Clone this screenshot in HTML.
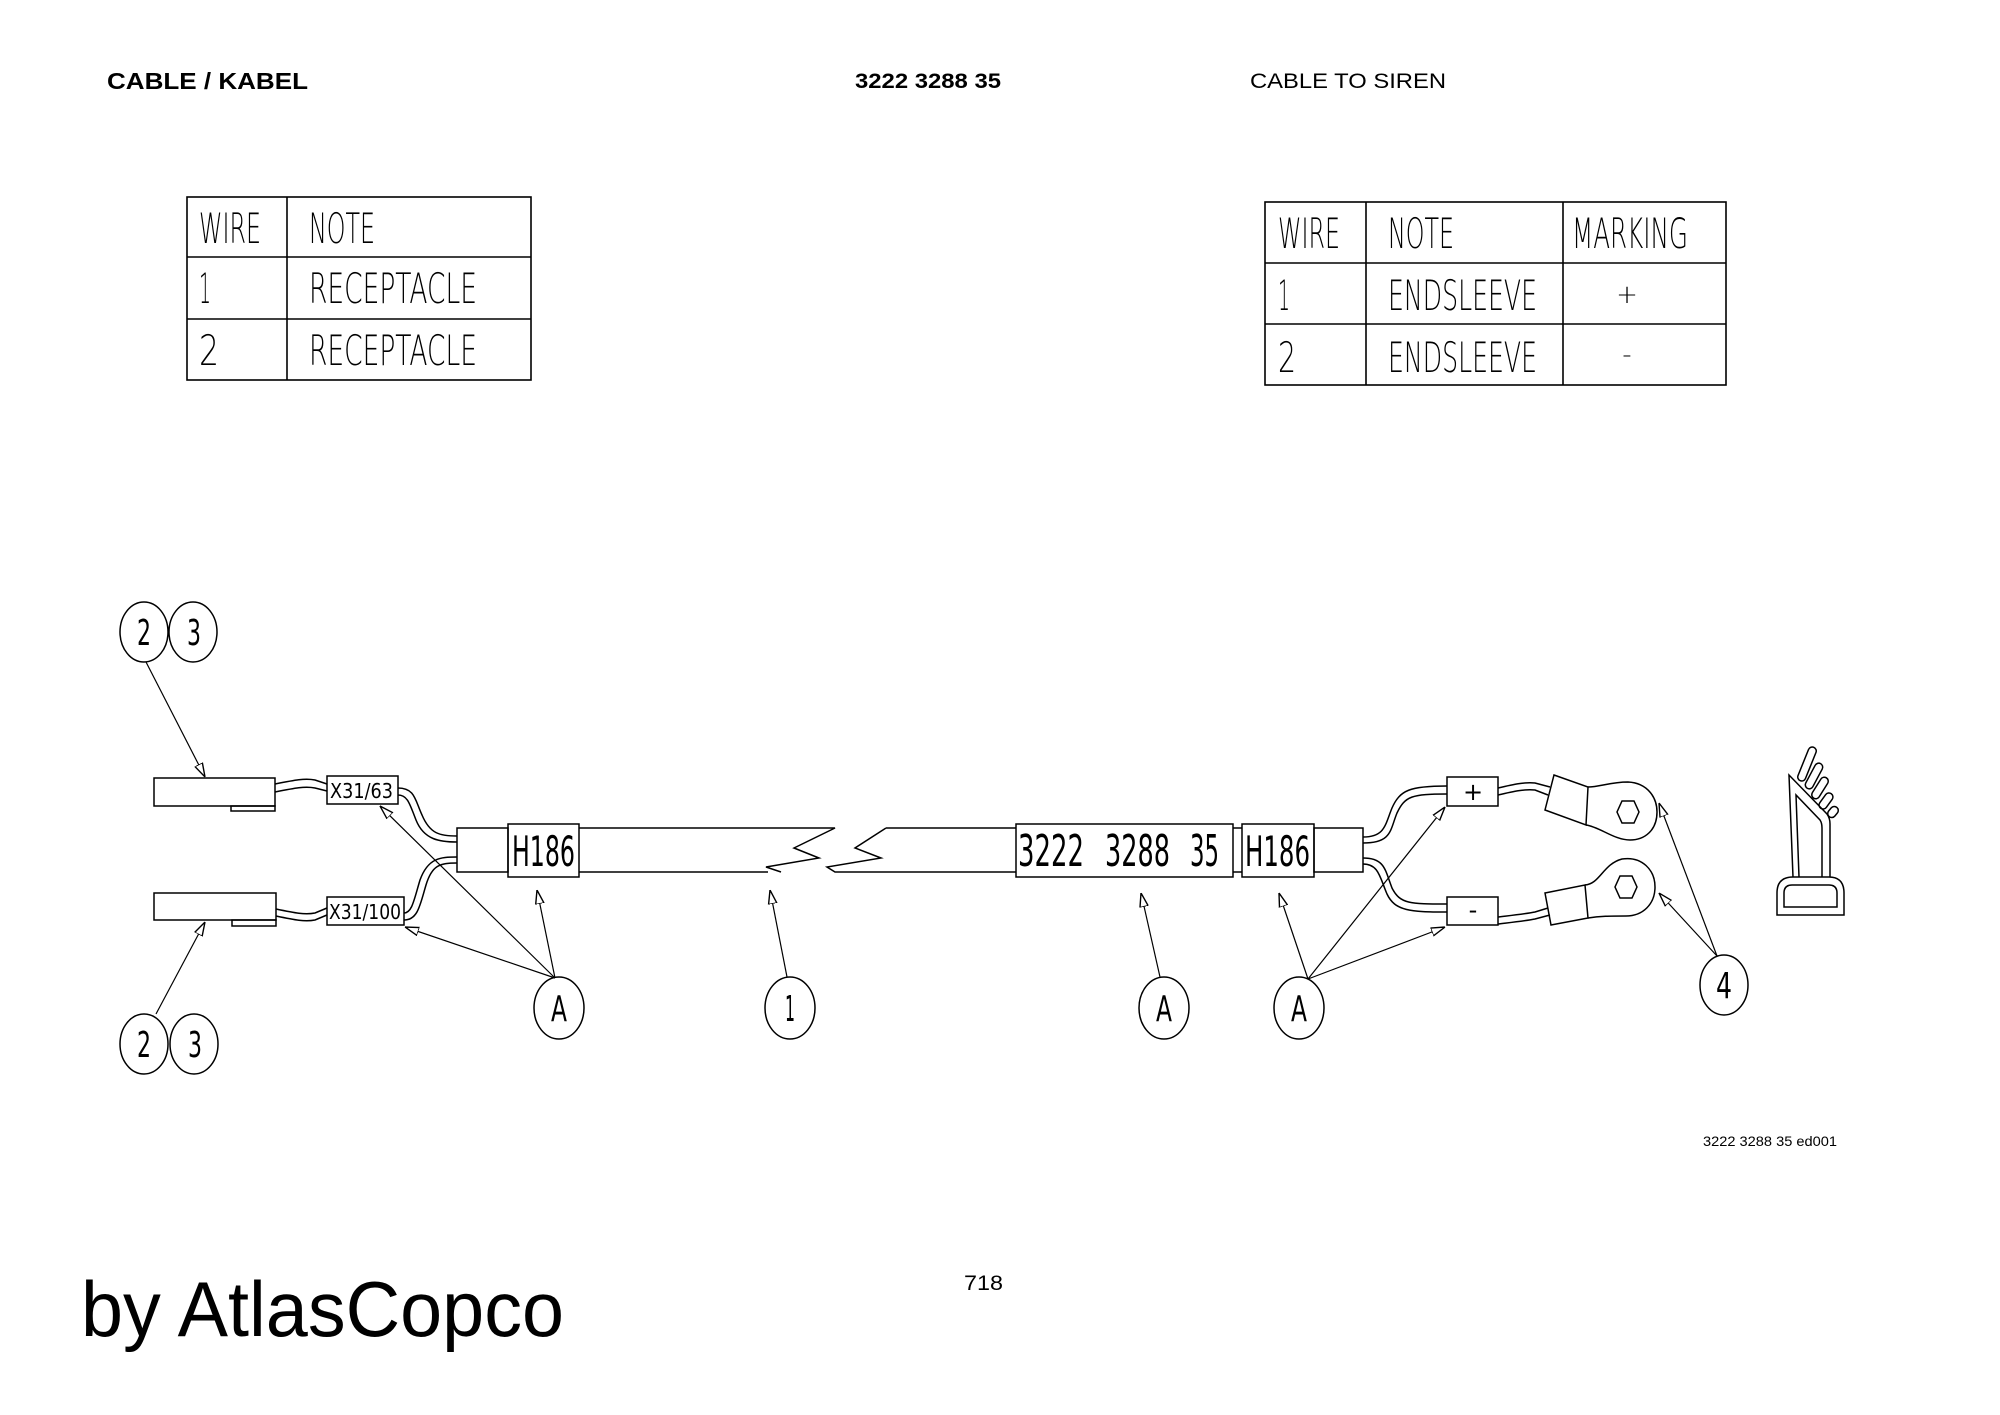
<!DOCTYPE html>
<html><head><meta charset="utf-8"><style>
html,body{margin:0;padding:0;background:#fff;}
svg{display:block;}
.c{font-family:"Liberation Sans",sans-serif;fill:#000;}
</style></head><body>
<svg width="2000" height="1415" viewBox="0 0 2000 1415" xmlns="http://www.w3.org/2000/svg">
<defs>
<marker id="ar" viewBox="0 0 10 10" refX="10" refY="5" markerWidth="14" markerHeight="14" markerUnits="userSpaceOnUse" orient="auto">
<path d="M0,2 L10,5 L0,8 Z" fill="#fff" stroke="#000" stroke-width="1"/>
</marker>
</defs>
<g class="c">
<text x="107" y="89" font-size="23" font-weight="bold" textLength="201" lengthAdjust="spacingAndGlyphs">CABLE / KABEL</text>
<text x="855" y="88" font-size="21" font-weight="bold" textLength="146" lengthAdjust="spacingAndGlyphs">3222 3288 35</text>
<text x="1250" y="88" font-size="21" textLength="196" lengthAdjust="spacingAndGlyphs">CABLE TO SIREN</text>
<text x="964" y="1290" font-size="21" textLength="39" lengthAdjust="spacingAndGlyphs">718</text>
<text x="1703" y="1146" font-size="14" textLength="134" lengthAdjust="spacingAndGlyphs">3222 3288 35 ed001</text>
<text x="81" y="1336" font-size="78" textLength="483" lengthAdjust="spacingAndGlyphs">by AtlasCopco</text>
</g>

<g fill="none" stroke="#000" stroke-width="1.6">
<rect x="187" y="197" width="344" height="183"/>
<line x1="187" y1="257" x2="531" y2="257"/><line x1="187" y1="319" x2="531" y2="319"/>
<line x1="287" y1="197" x2="287" y2="380"/>
<rect x="1265" y="202" width="461" height="183"/>
<line x1="1265" y1="263" x2="1726" y2="263"/><line x1="1265" y1="324" x2="1726" y2="324"/>
<line x1="1366" y1="202" x2="1366" y2="385"/><line x1="1563" y1="202" x2="1563" y2="385"/>
</g>
<g class="c" font-size="42" style="font-family:'DejaVu Sans','Liberation Sans',sans-serif;font-weight:200">
<text x="199" y="243" textLength="62" lengthAdjust="spacingAndGlyphs">WIRE</text>
<text x="309" y="243" textLength="66" lengthAdjust="spacingAndGlyphs">NOTE</text>
<text x="199" y="303" textLength="12" lengthAdjust="spacingAndGlyphs">1</text>
<text x="309" y="303" textLength="168" lengthAdjust="spacingAndGlyphs">RECEPTACLE</text>
<text x="199" y="365" textLength="20" lengthAdjust="spacingAndGlyphs">2</text>
<text x="309" y="365" textLength="168" lengthAdjust="spacingAndGlyphs">RECEPTACLE</text>
<text x="1278" y="248" textLength="62" lengthAdjust="spacingAndGlyphs">WIRE</text>
<text x="1388" y="248" textLength="66" lengthAdjust="spacingAndGlyphs">NOTE</text>
<text x="1572" y="248" textLength="116" lengthAdjust="spacingAndGlyphs">MARKING</text>
<text x="1278" y="310" textLength="12" lengthAdjust="spacingAndGlyphs">1</text>
<text x="1388" y="310" textLength="149" lengthAdjust="spacingAndGlyphs">ENDSLEEVE</text>
<text x="1278" y="372" textLength="18" lengthAdjust="spacingAndGlyphs">2</text>
<text x="1388" y="372" textLength="149" lengthAdjust="spacingAndGlyphs">ENDSLEEVE</text>
<text x="1627" y="303" font-size="26" text-anchor="middle">+</text>
<text x="1627" y="363" font-size="26" text-anchor="middle">-</text>
</g>

<g fill="none" stroke="#000" stroke-width="1.5">
<rect x="154" y="778" width="121" height="28"/>
<rect x="231" y="806" width="44" height="5"/>
<rect x="154" y="893" width="122" height="27"/>
<rect x="232" y="920" width="44" height="6"/>
<path d="M275,784 C295,780 305,778 315,780 L327,784"/>
<path d="M275,792 C295,788 305,786 315,788 L327,791"/>
<path d="M276,909 C295,913 305,915 315,913 L327,908"/>
<path d="M276,916 C295,920 305,922 315,920 L327,915"/>
<rect x="327" y="776" width="71" height="28"/>
<rect x="327" y="897" width="77" height="28"/>
<path d="M398,788 C415,788 415,800 422,815 C430,834 440,836 457,836"/>
<path d="M398,795 C408,795 410,805 416,820 C424,840 440,842 457,842"/>
<path d="M404,913 C412,913 414,900 420,880 C428,858 440,857 457,857"/>
<path d="M404,920 C418,920 420,905 426,885 C432,865 440,863 457,863"/>
<rect x="457" y="828" width="51" height="44"/>
<rect x="508" y="824" width="71" height="53"/>
<path d="M579,828 L835,828 L794,848 L819,858 L766,867 L781,872 M768,872 L579,872"/>
<path d="M886,828 L855,848 L881,858 L827,867 L835,872 L1016,872 M886,828 L1016,828"/>
<rect x="1016" y="824" width="217" height="53"/>
<line x1="1233" y1="828" x2="1242" y2="828"/><line x1="1233" y1="872" x2="1242" y2="872"/>
<rect x="1242" y="824" width="72" height="53"/>
<rect x="1314" y="828" width="49" height="44"/>
<path d="M1363,837 C1385,837 1385,825 1392,808 C1400,790 1410,786 1447,786"/>
<path d="M1363,843 C1392,843 1390,830 1397,813 C1405,796 1412,794 1447,794"/>
<path d="M1363,858 C1385,858 1385,870 1392,888 C1400,904 1410,904 1447,904"/>
<path d="M1363,864 C1379,864 1380,878 1387,894 C1395,911 1410,912 1447,912"/>
<rect x="1447" y="777" width="51" height="29"/>
<rect x="1447" y="897" width="51" height="28"/>
<path d="M1498,788 C1515,784 1525,782 1535,783 L1550,787"/>
<path d="M1498,795 C1515,791 1525,789 1535,790 L1548,795"/>
<path d="M1498,917 C1515,915 1525,914 1535,912 L1548,908"/>
<path d="M1498,924 C1515,922 1525,921 1535,919 L1550,915"/>
<!-- lugs -->
<path d="M1554,775 L1588,787 L1586,825 L1545,810 Z"/>
<path d="M1588,787 C1600,787 1610,782 1628,782 C1648,783 1657,798 1657,812 C1657,830 1645,840 1630,840 C1614,840 1600,827 1586,825"/>
<polygon points="1639,812 1634,823 1622,823 1617,812 1622,801 1634,801"/>
<path d="M1545,893 L1585,885 L1588,918 L1551,925 Z"/>
<path d="M1585,885 C1600,884 1603,864 1622,859 C1642,856 1655,870 1655,887 C1655,904 1643,916 1626,916 C1610,916 1600,916 1588,918"/>
<polygon points="1637,887 1632,898 1620,898 1615,887 1620,876 1632,876"/>
<!-- siren -->
<path d="M1777,915 L1777,893 Q1777,877 1793,877 L1829,877 Q1844,877 1844,893 L1844,915 Z"/>
<path d="M1784,907 L1784,893 Q1784,885 1792,885 L1829,885 Q1837,885 1837,893 L1837,907 Z"/>
<path d="M1793,877 L1789,775 L1827,814 Q1830,818 1830,824 L1830,877"/>
<path d="M1799,877 L1796,795 L1820,820 Q1822,823 1822,828 L1822,877"/>
<rect x="-4" y="-18" width="8" height="36" rx="4" transform="translate(1807,764) rotate(22)"/>
<rect x="-4" y="-14" width="8" height="28" rx="4" transform="translate(1814,776) rotate(28)"/>
<rect x="-4" y="-12" width="8" height="24" rx="4" transform="translate(1820,788) rotate(32)"/>
<rect x="-4" y="-9" width="8" height="18" rx="4" transform="translate(1826,801) rotate(36)"/>
<rect x="-4" y="-6" width="8" height="12" rx="4" transform="translate(1833,812) rotate(40)"/>
<!-- balloons -->
<ellipse cx="144" cy="632" rx="24" ry="30"/><ellipse cx="193" cy="632" rx="24" ry="30"/>
<ellipse cx="144" cy="1044" rx="24" ry="30"/><ellipse cx="194" cy="1044" rx="24" ry="30"/>
<ellipse cx="559" cy="1008" rx="25" ry="31"/>
<ellipse cx="790" cy="1008" rx="25" ry="31"/>
<ellipse cx="1164" cy="1008" rx="25" ry="31"/>
<ellipse cx="1299" cy="1008" rx="25" ry="31"/>
<ellipse cx="1724" cy="985" rx="24" ry="30"/>
</g>
<g stroke="#000" stroke-width="1.2" fill="none" marker-end="url(#ar)">
<line x1="146" y1="662" x2="205" y2="777"/>
<line x1="156" y1="1014" x2="205" y2="922"/>
<line x1="555" y1="978" x2="380" y2="806"/>
<line x1="555" y1="978" x2="405" y2="927"/>
<line x1="555" y1="978" x2="537" y2="890"/>
<line x1="787" y1="977" x2="770" y2="890"/>
<line x1="1160" y1="977" x2="1141" y2="893"/>
<line x1="1308" y1="979" x2="1279" y2="893"/>
<line x1="1308" y1="979" x2="1445" y2="807"/>
<line x1="1308" y1="979" x2="1445" y2="927"/>
<line x1="1717" y1="956" x2="1659" y2="803"/>
<line x1="1717" y1="956" x2="1659" y2="893"/>
</g>
<g class="c" font-size="36" text-anchor="middle" style="font-family:'DejaVu Sans','Liberation Sans',sans-serif">
<text x="144" y="645" textLength="14" lengthAdjust="spacingAndGlyphs">2</text>
<text x="194" y="645" textLength="14" lengthAdjust="spacingAndGlyphs">3</text>
<text x="144" y="1057" textLength="14" lengthAdjust="spacingAndGlyphs">2</text>
<text x="195" y="1057" textLength="14" lengthAdjust="spacingAndGlyphs">3</text>
<text x="559" y="1021" textLength="16" lengthAdjust="spacingAndGlyphs">A</text>
<text x="790" y="1021" textLength="10" lengthAdjust="spacingAndGlyphs">1</text>
<text x="1164" y="1021" textLength="16" lengthAdjust="spacingAndGlyphs">A</text>
<text x="1299" y="1021" textLength="16" lengthAdjust="spacingAndGlyphs">A</text>
<text x="1724" y="998" textLength="16" lengthAdjust="spacingAndGlyphs">4</text>
</g>
<g class="c" style="font-family:'DejaVu Sans','Liberation Sans',sans-serif">
<text x="330" y="798" font-size="20" textLength="63" lengthAdjust="spacingAndGlyphs">X31/63</text>
<text x="329" y="919" font-size="20" textLength="72" lengthAdjust="spacingAndGlyphs">X31/100</text>
<text x="512" y="866" font-size="42" textLength="63" lengthAdjust="spacingAndGlyphs">H186</text>
<text x="1018" y="866" font-size="44" textLength="66" lengthAdjust="spacingAndGlyphs">3222</text>
<text x="1105" y="866" font-size="44" textLength="65" lengthAdjust="spacingAndGlyphs">3288</text>
<text x="1190" y="866" font-size="44" textLength="29" lengthAdjust="spacingAndGlyphs">35</text>
<text x="1245" y="866" font-size="42" textLength="65" lengthAdjust="spacingAndGlyphs">H186</text>
<text x="1473" y="800" font-size="24" text-anchor="middle">+</text>
<text x="1473" y="918" font-size="24" text-anchor="middle">-</text>
</g>
</svg>
</body></html>
